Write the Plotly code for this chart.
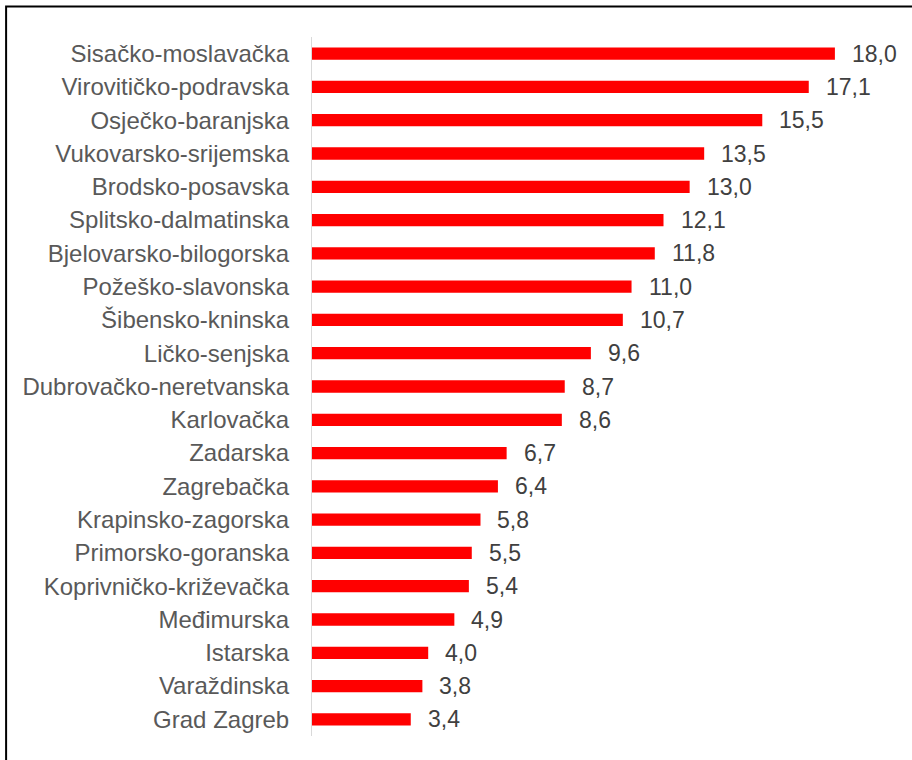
import plotly.graph_objects as go

# Counties (top to bottom) and their values
counties = [
    "Sisačko-moslavačka", "Virovitičko-podravska", "Osječko-baranjska",
    "Vukovarsko-srijemska", "Brodsko-posavska", "Splitsko-dalmatinska",
    "Bjelovarsko-bilogorska", "Požeško-slavonska", "Šibensko-kninska",
    "Ličko-senjska", "Dubrovačko-neretvanska", "Karlovačka", "Zadarska",
    "Zagrebačka", "Krapinsko-zagorska", "Primorsko-goranska",
    "Koprivničko-križevačka", "Međimurska", "Istarska", "Varaždinska",
    "Grad Zagreb",
]
values = [18.0, 17.1, 15.5, 13.5, 13.0, 12.1, 11.8, 11.0, 10.7, 9.6, 8.7,
          8.6, 6.7, 6.4, 5.8, 5.5, 5.4, 4.9, 4.0, 3.8, 3.4]

labels = [f"{v:.1f}".replace(".", ",") for v in values]

fig = go.Figure(
    go.Bar(
        x=values,
        y=counties,
        orientation="h",
        marker=dict(color="#FF0000", line=dict(width=0)),
        hoverinfo="skip",
    )
)

for c, v, t in zip(counties, values, labels):
    fig.add_annotation(
        x=v, y=c, text=t, showarrow=False, xanchor="left", yanchor="middle",
        xshift=15, font=dict(family="Liberation Sans, Arial", size=23, color="#404040"),
    )

# Outer frame
fig.add_shape(
    type="rect", xref="paper", yref="paper",
    x0=-0.5265, x1=1.2, y0=-0.2, y1=1.0435,
    line=dict(color="#000000", width=2), fillcolor="rgba(0,0,0,0)", layer="above",
)

fig.update_layout(
    width=912, height=760,
    margin=dict(l=312, r=19, t=37, b=24),
    paper_bgcolor="white", plot_bgcolor="white",
    bargap=0.63,
    showlegend=False,
    xaxis=dict(range=[0, 20], visible=False, fixedrange=True),
    yaxis=dict(
        autorange="reversed",
        showgrid=False,
        showline=True, linecolor="#D9D9D9", linewidth=1,
        ticks="", ticklabelstandoff=17,
        tickfont=dict(family="Liberation Sans, Arial", size=24, color="#595959"),
        fixedrange=True,
    ),
)

fig.write_html("out.html")
